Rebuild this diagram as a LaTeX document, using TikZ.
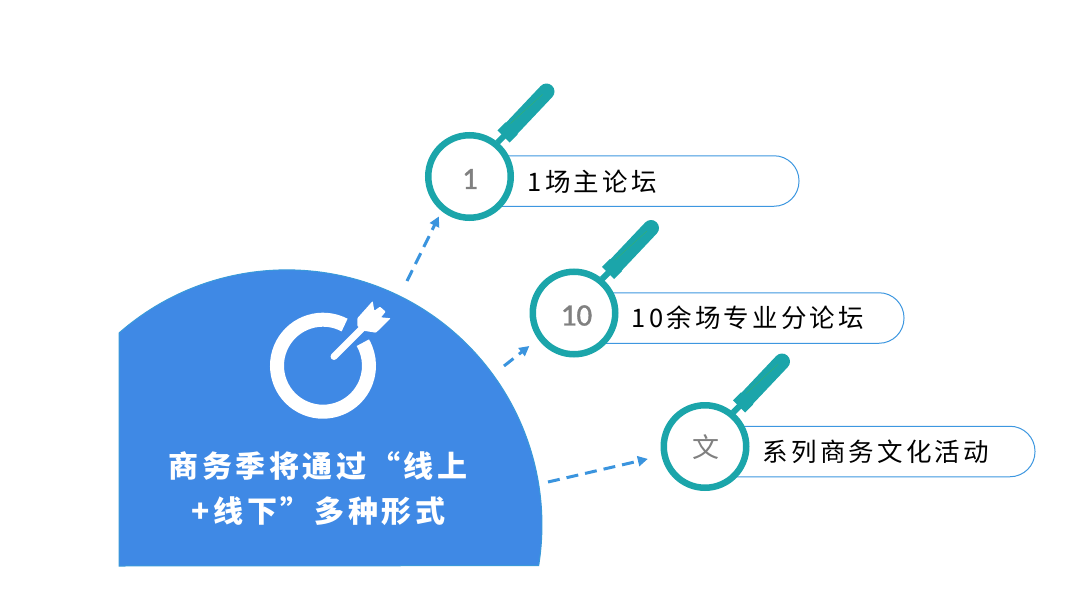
\documentclass[tikz,border=0pt]{standalone}
\usepackage{fontspec}
\setmainfont{Noto Sans CJK SC}
\newfontfamily\numfont[FakeBold=1.2]{Carlito}
\usetikzlibrary{arrows.meta}
\definecolor{fanblue}{RGB}{63,137,229}
\definecolor{fanedge}{RGB}{58,154,217}
\definecolor{ringteal}{RGB}{27,165,170}
\definecolor{pillblue}{RGB}{61,151,224}
\definecolor{dashblue}{RGB}{58,148,222}
\tikzset{
	ringnode/.style={circle, draw=ringteal, fill=white, line width=6.5pt, minimum size=82.5pt, inner sep=0pt},
	numtext/.style={inner sep=0pt, text=gray, font=\numfont\fontsize{31}{31}\selectfont},
	wentext/.style={inner sep=0pt, text=gray, font=\fontsize{27}{27}\selectfont},
	pillnode/.style={draw=pillblue, fill=white, line width=1pt, rounded corners=25pt, minimum height=50.5pt, inner sep=0pt},
	itemtext/.style={anchor=west, inner sep=0pt, font=\fontsize{25.5}{25.5}\selectfont\addfontfeature{LetterSpace=12.5}},
	titletext/.style={inner sep=0pt, text=white, font=\fontsize{30}{30}\selectfont\bfseries\addfontfeature{LetterSpace=12}},
	neckline/.style={ringteal, line width=6pt},
	handleline/.style={ringteal, line width=16pt, line cap=round},
	handlebase/.style={ringteal, line width=17pt},
	handleglint/.style={green!45!gray, line width=.4pt, opacity=.6},
	dashline/.style={dashblue, line width=3pt, dash pattern=on 12pt off 7pt, -{Triangle[length=10pt, width=10pt]}},
}
\begin{document}
\begin{tikzpicture}[x=1pt, y=-1pt]
	\useasboundingbox (0, 0) rectangle (1080, 608);
	\draw[draw=fanedge, fill=fanblue, line width=1pt](119, 566)--(119, 333) arc[start angle=-131.2, end angle=9.2, radius=255]--cycle;
	\draw[white, line width=14pt] (323, 365.7)++(-62:46) arc[start angle=-62, end angle=-390, radius=46];
	\draw[white, line width=7pt, line cap=round](334, 356.5)--(364, 326.5);
	\fill[white, rounded corners=.8pt](357.3, 318.3)--(372.7, 301)--(374.3, 310.7)--(380, 306.7)--(385.7, 311.7)--(381, 317.3)--(390.7, 318.3)--(376, 332.7)--(363.3, 330.7)--(357.3, 326)--cycle;
	\node[titletext] (title1) at (318, 466){商务季将通过“线上};
	\node[titletext] (title2) at (318.5, 511){+线下”多种形式};

	\node[pillnode, minimum width=329pt] (pill1) at (634.5, 181){};
	\node[pillnode, minimum width=329pt] (pill2) at (739.5, 318){};
	\node[pillnode, minimum width=329pt] (pill3) at (870.5, 451.5){};

	\draw[neckline](469.5, 176.5)++(28, -34)--++(9, -9);
	\draw[handlebase](469.5, 176.5)++(34, -40)--++(8, -8);
	\draw[handleline](469.5, 176.5)++(42, -48)--++(35, -37);
	\draw[handleglint](469.5, 176.5)++(41, -53)--++(32, -29);
	\node[ringnode] (ring1) at (469.5, 176.5){};
	\node[numtext] (num1) at (470, 179){1};

	\draw[neckline](574, 313)++(28, -34)--++(9, -9);
	\draw[handlebase](574, 313)++(34, -40)--++(8, -8);
	\draw[handleline](574, 313)++(42, -48)--++(35, -37);
	\draw[handleglint](574, 313)++(41, -53)--++(32, -29);
	\node[ringnode] (ring2) at (574, 313){};
	\node[numtext] (num2) at (576.5, 315.5){10};

	\draw[neckline](705, 446.5)++(28, -34)--++(9, -9);
	\draw[handlebase](705, 446.5)++(34, -40)--++(8, -8);
	\draw[handleline](705, 446.5)++(42, -48)--++(35, -37);
	\draw[handleglint](705, 446.5)++(41, -53)--++(32, -29);
	\node[ringnode] (ring3) at (705, 446.5){};
	\node[wentext] (num3) at (706, 447.5){文};

	\node[itemtext] (item1) at (527.5, 182){1场主论坛};
	\node[itemtext] (item2) at (631.5, 318){10余场专业分论坛};
	\node[itemtext] (item3) at (762.5, 452){系列商务文化活动};

	\coordinate (from1) at (407, 281);
	\coordinate (from2) at (504, 366);
	\coordinate (from3) at (548, 482);
	\draw[dashline, shorten >=6pt](from1)--(ring1.231);
	\draw[dashline, shorten >=11pt](from2)--(ring2.216);
	\draw[dashline, shorten >=14pt](from3)--(ring3.192);
\end{tikzpicture}
\end{document}
